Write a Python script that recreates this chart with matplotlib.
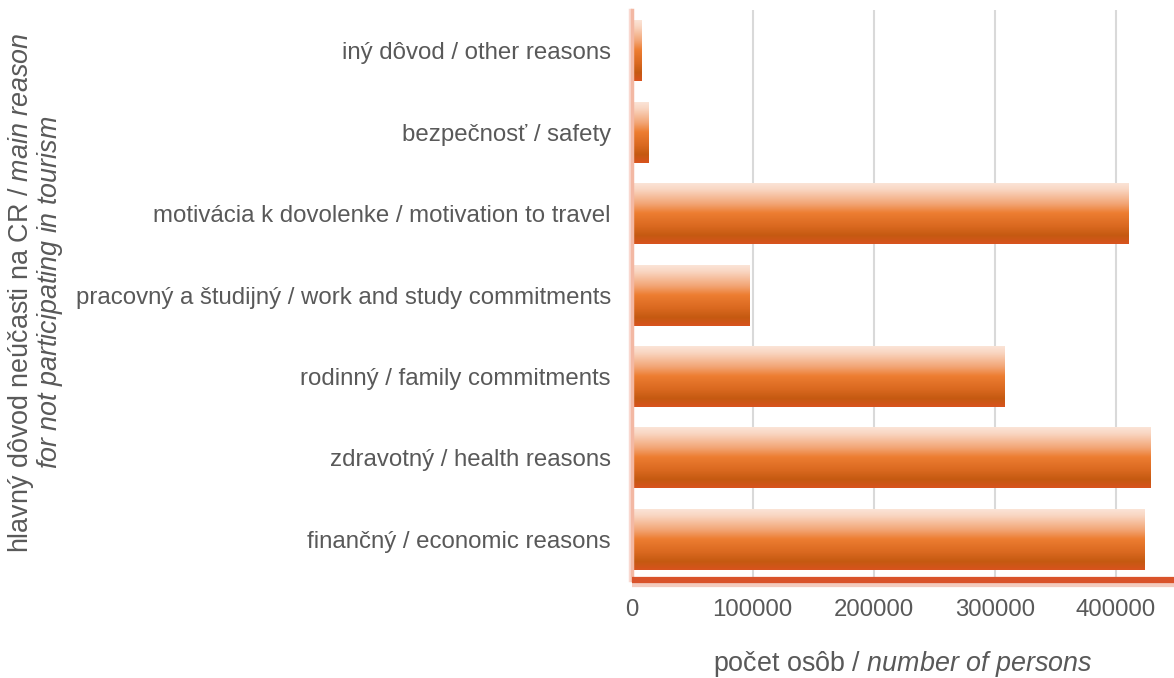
import numpy as np
import matplotlib
matplotlib.use("Agg")
import matplotlib.pyplot as plt
from matplotlib.colors import LinearSegmentedColormap
import matplotlib.patheffects as pe

plt.rcParams['font.family'] = ['Liberation Sans', 'DejaVu Sans']
plt.rcParams['mathtext.fontset'] = 'custom'
plt.rcParams['mathtext.rm'] = 'Liberation Sans'
plt.rcParams['mathtext.it'] = 'Liberation Sans:italic'

# data (bottom to top)
categories = [
    "finančný / economic reasons",
    "zdravotný / health reasons",
    "rodinný / family commitments",
    "pracovný a študijný / work and study commitments",
    "motivácia k dovolenke / motivation to travel",
    "bezpečnosť / safety",
    "iný dôvod / other reasons",
]
persons = [423000, 428000, 308000, 96800, 410500, 13800, 8200]
xticks = [0, 100000, 200000, 300000, 400000]

text_col = "#595959"
grad = LinearSegmentedColormap.from_list("bar", [
    (0.0, "#fbe6da"), (0.12, "#f9d6c2"), (0.35, "#f2a575"),
    (0.5, "#ed7d31"), (0.72, "#d9681f"), (0.86, "#c55a11"),
    (0.92, "#cc5716"), (1.0, "#d9531f")])

fig = plt.figure(figsize=(11.74, 6.78), dpi=100)
ax = fig.add_axes([0.538, 0.1445, 0.462, 0.8405])

ypos = np.arange(len(categories))
h = 0.75
bars = ax.barh(ypos, persons, height=h, color="#ed7d31", zorder=2)
for b in bars:
    x0, y0 = b.get_x(), b.get_y()
    im = ax.imshow(np.linspace(0, 1, 256).reshape(-1, 1), cmap=grad, aspect="auto",
                   extent=[x0, x0 + b.get_width(), y0, y0 + b.get_height()],
                   origin="upper", zorder=3)
    im.set_clip_path(b)

ax.set_xlim(0, 448000)
ax.set_ylim(-0.5, len(categories) - 0.5)
ax.set_xticks(xticks)
ax.set_xticklabels([str(t) for t in xticks])
ax.set_yticks(ypos)
ax.set_yticklabels(categories)
ax.tick_params(axis="both", length=0, labelsize=17.3, labelcolor=text_col)
ax.tick_params(axis="y", pad=15)
ax.tick_params(axis="x", pad=14)
ax.grid(axis="x", color="#d9d9d9", linewidth=1.5, zorder=0)
ax.set_axisbelow(True)
for s in ax.spines.values():
    s.set_visible(False)

# axis lines with soft glow
ax.plot([0, 0], [0, 1], transform=ax.transAxes, color="#f3b8a3", lw=2.5,
        clip_on=False, zorder=4,
        path_effects=[pe.SimpleLineShadow(offset=(-1.5, 0), shadow_color="#e8694a", alpha=0.25),
                      pe.Normal()])
ax.plot([0, 1], [0, 0], transform=ax.transAxes, color="#d9532a", lw=4.5,
        clip_on=False, zorder=4, solid_capstyle="butt",
        path_effects=[pe.SimpleLineShadow(offset=(0, -3), shadow_color="#d9532a", alpha=0.3),
                      pe.Normal()])

ax.set_xlabel(r"počet osôb / $\mathit{number\ of\ persons}$", fontsize=19.4,
              color=text_col, labelpad=20)

fig.text(0.0175, 0.569, r"hlavný dôvod neúčasti na CR / $\mathit{main\ reason}$",
         rotation=90, ha="center", va="center", fontsize=19.4, color=text_col)
fig.text(0.0425, 0.569, r"$\mathit{for\ not\ participating\ in\ tourism}$",
         rotation=90, ha="center", va="center", fontsize=19.4, color=text_col)

fig.savefig("out.png", dpi=100)
